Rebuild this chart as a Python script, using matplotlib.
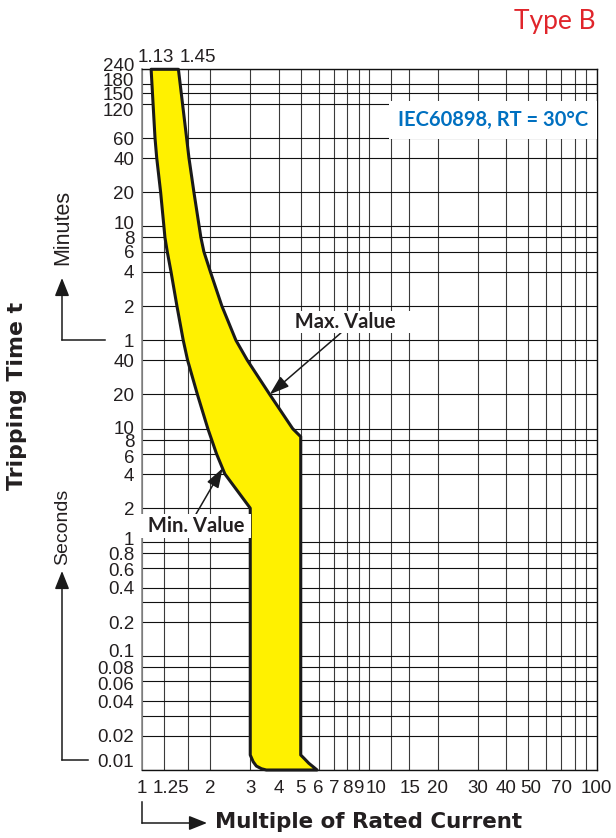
import matplotlib
matplotlib.use("Agg")
import matplotlib.pyplot as plt
from matplotlib.transforms import ScaledTranslation, blended_transform_factory
from matplotlib.ticker import NullLocator
from matplotlib.lines import Line2D
from matplotlib.patches import FancyArrowPatch

# ---------------- data ----------------
# minimum (no-trip) curve : multiple of In  vs  time in seconds
min_x = [1.10, 1.144, 1.164, 1.211, 1.252, 1.265, 1.295, 1.345, 1.428, 1.522, 1.591, 1.757, 1.953, 2.03, 2.133, 2.32, 3.0]
min_t = [14400, 3600, 2400, 1200, 600, 480, 360, 240, 120, 60, 40, 20, 10, 8, 6, 4, 2]
# maximum (trip) curve
max_x = [1.45, 1.575, 1.613, 1.696, 1.789, 1.82, 1.876, 2.003, 2.25, 2.593, 2.911, 3.653, 4.609, 5.0]
max_t = [14400, 3600, 2400, 1200, 600, 480, 360, 240, 120, 60, 40, 20, 10, 8.5]
# instantaneous region (magnetic release 3..5 In)
inst_min_x = [3.0, 3.0, 3.09, 3.19, 3.36, 3.53]
inst_min_t = [2, 0.01355, 0.01183, 0.01084, 0.01026, 0.01]
inst_max_x = [5.0, 5.0, 5.17, 5.43, 5.71, 5.9]
inst_max_t = [8.5, 0.01355, 0.01267, 0.01145, 0.01056, 0.01]

# axis grid / labels
x_grid = [1, 1.25, 1.6, 2, 3, 4, 5, 6, 7, 8, 9, 10, 12.5, 15, 20, 30, 40, 50, 60, 70, 80, 90, 100]
x_tick_vals = [1, 1.25, 2, 3, 4, 5, 6, 7, 8, 9, 10, 15, 20, 30, 40, 50, 70, 100]
x_tick_labels = ["1", "1.25", "2", "3", "4", "5", "6", "7", "8", "9", "10", "15", "20", "30", "40", "50", "70", "100"]

y_min_labels = ["240", "180", "150", "120", "60", "40", "20", "10", "8", "6", "4", "2", "1"]
y_min_vals = [14400, 10800, 9000, 7200, 3600, 2400, 1200, 600, 480, 360, 240, 120, 60]
y_sec_labels = ["40", "20", "10", "8", "6", "4", "2", "1", "0.8", "0.6", "0.4", "0.2",
                "0.1", "0.08", "0.06", "0.04", "0.02", "0.01"]
y_sec_vals = [40, 20, 10, 8, 6, 4, 2, 1, 0.8, 0.6, 0.4, 0.2, 0.1, 0.08, 0.06, 0.04, 0.02, 0.01]
y_extra_grid = [0.3, 0.03]

top_labels = ["1.13", "1.45"]

# ---------------- figure ----------------
W, H, DPI = 616, 838, 100
fig = plt.figure(figsize=(W / DPI, H / DPI), dpi=DPI)
fig.patch.set_facecolor("white")
ax = fig.add_axes([141.7 / W, 1 - 770 / H, (596.7 - 141.7) / W, (770 - 69.3) / H])
ax.set_xscale("log")
ax.set_yscale("log")
ax.set_xlim(1, 100)
ax.set_ylim(0.01, 14400)
for a in (ax.xaxis, ax.yaxis):
    a.set_major_locator(NullLocator())
    a.set_minor_locator(NullLocator())

TICKFONT = dict(family="Liberation Sans", size=13.5, color="#231f20")


def off(dx, dy):
    """offset in screen pixels, dy positive = downwards"""
    return ScaledTranslation(dx / DPI, -dy / DPI, fig.dpi_scale_trans)


# grid
for v in x_grid:
    ax.axvline(v, color="#3a3a3a", lw=0.8, zorder=1)
for v in y_min_vals + y_sec_vals + y_extra_grid:
    ax.axhline(v, color="#111111", lw=0.8, zorder=1)

for s in ("top", "right", "bottom"):
    ax.spines[s].set_color("#111111")
    ax.spines[s].set_linewidth(1.0)
ax.spines["left"].set_color("#8a8a8a")
ax.spines["left"].set_linewidth(1.2)

# band
poly_x = min_x + inst_min_x[1:] + inst_max_x[::-1][:-1] + max_x[::-1]
poly_t = min_t + inst_min_t[1:] + inst_max_t[::-1][:-1] + max_t[::-1]
ax.fill(poly_x, poly_t, facecolor="#FFF100", edgecolor="#1a1a1a", lw=2.2,
        joinstyle="round", zorder=3, clip_on=False)

# y labels
ytrans = blended_transform_factory(ax.transAxes, ax.transData)
y_adj = {("m", "240"): -5, ("m", "180"): -4, ("m", "150"): 1, ("m", "120"): 6, ("m", "10"): -4,
         ("s", "1"): -4, ("s", "0.6"): 2, ("s", "6"): 2, ("s", "0.1"): -6, ("s", "0.06"): 2,
         ("s", "0.01"): -10, ("s", "10"): -1, ("s", "8"): 1}
for kind, labs, vals in (("m", y_min_labels, y_min_vals), ("s", y_sec_labels, y_sec_vals)):
    for lab, v in zip(labs, vals):
        dy = 6.7 + y_adj.get((kind, lab), 0)
        ax.text(0, v, lab, transform=ytrans + off(-7.5, dy), ha="right", va="baseline",
                clip_on=False, **TICKFONT)

# x labels
xtrans = blended_transform_factory(ax.transData, ax.transAxes)
x_adj = {"1.25": 7, "10": 7, "15": 1, "50": 2}
for lab, v in zip(x_tick_labels, x_tick_vals):
    ax.text(v, 0, lab, transform=xtrans + off(x_adj.get(lab, 0), 23), ha="center",
            va="baseline", clip_on=False, **TICKFONT)

# top labels
top_adj = {"1.13": 2, "1.45": 19}
for lab in top_labels:
    ax.text(float(lab), 1, lab, transform=xtrans + off(top_adj[lab], -7), ha="center",
            va="baseline", clip_on=False, **TICKFONT)

# annotations
ANNFONT = dict(family="Lato", weight="bold", size=14.5, color="#231f20")
ax.annotate("  Max. Value    ", xy=(max_x[11], max_t[11]), xytext=(8.24, 87),
            textcoords="data", ha="center", va="center", zorder=5,
            bbox=dict(boxstyle="square,pad=0.05", fc="white", ec="none"),
            arrowprops=dict(arrowstyle="-|>,head_length=0.6,head_width=0.2", mutation_scale=20,
                            lw=1.1, color="#1a1a1a", shrinkA=0, shrinkB=0, relpos=(0.44, 0)),
            **ANNFONT)
ax.annotate(" Min. Value ", xy=(2.27, 4.5), xytext=(1.73, 1.39),
            textcoords="data", ha="center", va="center", zorder=5,
            bbox=dict(boxstyle="square,pad=0.1", fc="white", ec="none"),
            arrowprops=dict(arrowstyle="-|>,head_length=0.6,head_width=0.2", mutation_scale=20,
                            lw=1.1, color="#1a1a1a", shrinkA=0, shrinkB=0, relpos=(0.49, 1)),
            **ANNFONT)

ax.text(0.772, 0.928, "IEC60898, RT = 30°C", transform=ax.transAxes, ha="center", va="center",
        family="Lato", weight="bold", size=14.5, color="#0070C0", zorder=5,
        bbox=dict(boxstyle="square,pad=0.45", fc="white", ec="none"))


# ---------- decorations outside the axes (pixel positions) ----------
def P(x, y):
    return (x / W, 1 - y / H)


def fline(p0, p1):
    fig.add_artist(Line2D([P(*p0)[0], P(*p1)[0]], [P(*p0)[1], P(*p1)[1]],
                          transform=fig.transFigure, color="#1a1a1a", lw=1.1))


def farrow(p0, p1):
    fig.add_artist(FancyArrowPatch(P(*p0), P(*p1), transform=fig.transFigure,
                                   arrowstyle="-|>,head_length=0.55,head_width=0.22",
                                   mutation_scale=20, lw=1.1, color="#1a1a1a",
                                   shrinkA=0, shrinkB=0))


fig.text(*P(555, 22), "Type B", ha="center", va="center", family="Lato", size=19,
         color="#E0252B")

fline((105, 340), (62, 340))
farrow((62, 340), (62, 278))
fig.text(*P(63, 227), "Minutes", rotation=90, ha="center", va="center",
         family="Liberation Sans", size=15.5, color="#231f20")

fline((88, 760), (62, 760))
farrow((62, 760), (62, 571))
fig.text(*P(63, 527), "Seconds", rotation=90, ha="center", va="center",
         family="Liberation Sans", size=14, color="#231f20")

fig.text(*P(17, 396), "Tripping Time t", rotation=90, ha="center", va="center",
         family="DejaVu Sans", weight="bold", size=15.8, color="#231f20")

fline((142, 802), (142, 823))
farrow((142, 823), (207, 823))
fig.text(*P(215, 828), "Multiple of Rated Current", ha="left", va="baseline",
         family="DejaVu Sans", weight="bold", size=15.4, color="#231f20")

fig.savefig("out.png", dpi=DPI, facecolor="white")
